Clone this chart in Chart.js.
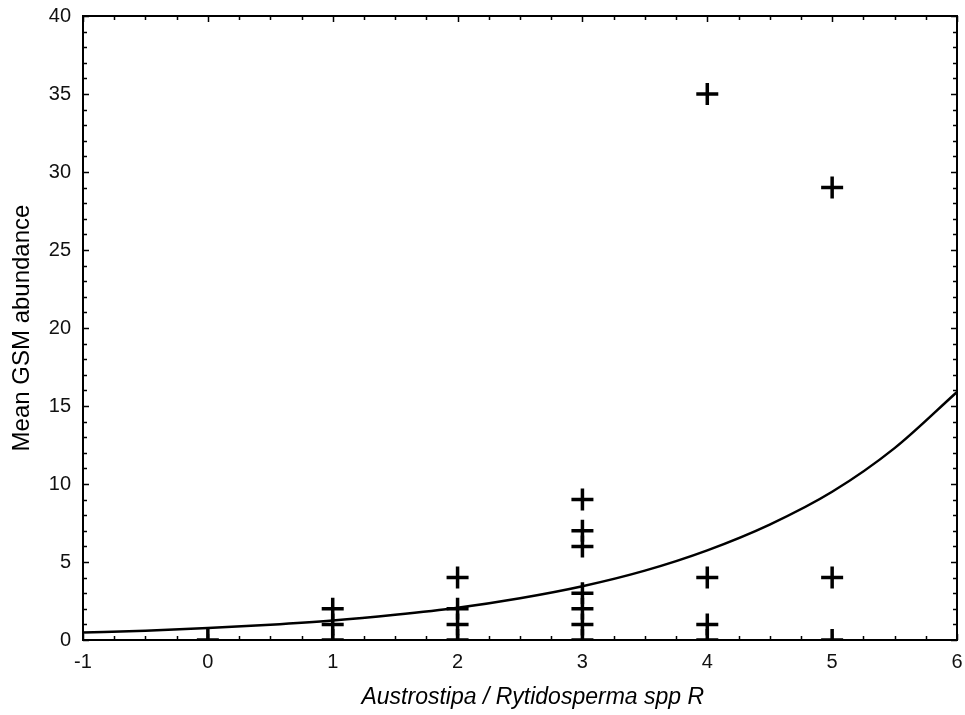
<!DOCTYPE html>
<html><head><meta charset="utf-8">
<script src="https://cdn.jsdelivr.net/npm/chart.js@4/dist/chart.umd.min.js"></script>
<style>html,body{margin:0;padding:0;background:#fff}#wrap{width:965px;height:715px}</style>
</head><body><div id="wrap"><canvas id="c" width="965" height="715"></canvas></div>
<script>
// Observed points (x = Austrostipa / Rytidosperma spp R, y = Mean GSM abundance)
const obsX = [0, 1, 1, 1, 2, 2, 2, 2, 3, 3, 3, 3, 3, 3, 3, 4, 4, 4, 4, 5, 5, 5];
const obsY = [0, 0, 1, 2, 0, 1, 2, 4, 0, 1, 2, 3, 6, 7, 9, 0, 1, 4, 35, 0, 4, 29];
// Fitted curve
const fitX = [-1, -0.5, 0, 0.5, 1, 1.5, 2, 2.5, 3, 3.5, 4, 4.5, 5, 5.5, 6];
const fitY = [0.48, 0.6, 0.77, 0.98, 1.25, 1.62, 2.07, 2.68, 3.45, 4.45, 5.75, 7.4, 9.5, 12.3, 15.9];
const xTicks = [-1, 0, 1, 2, 3, 4, 5, 6];
const yTicks = [0, 5, 10, 15, 20, 25, 30, 35, 40];

const framePlugin = {
  id: 'frame',
  afterDatasetsDraw(chart) {
    const {ctx, chartArea: a, scales: {x, y}} = chart;
    ctx.save();
    ctx.strokeStyle = '#000';
    ctx.lineWidth = 2;
    ctx.strokeRect(a.left, a.top, a.right - a.left, a.bottom - a.top);
    ctx.lineWidth = 1.5;
    ctx.beginPath();
    for (let v = -1; v <= 6.0001; v += 0.25) {
      const px = Math.round(x.getPixelForValue(v)) + 0.5;
      const major = Math.abs(v - Math.round(v)) < 1e-6;
      const len = major ? 6 : 4;
      ctx.moveTo(px, a.bottom); ctx.lineTo(px, a.bottom - len);
      ctx.moveTo(px, a.top); ctx.lineTo(px, a.top + len);
    }
    for (let v = 0; v <= 40.0001; v += 1) {
      const py = Math.round(y.getPixelForValue(v)) + 0.5;
      const major = v % 5 === 0;
      const len = major ? 6 : 4;
      ctx.moveTo(a.left, py); ctx.lineTo(a.left + len, py);
      ctx.moveTo(a.right, py); ctx.lineTo(a.right - len, py);
    }
    ctx.stroke();
    ctx.restore();
  }
};

new Chart(document.getElementById('c'), {
  type: 'scatter',
  data: {
    datasets: [
      {
        label: 'fit',
        data: fitX.map((v, i) => ({x: v, y: fitY[i]})),
        showLine: true,
        borderColor: '#000',
        borderWidth: 2.5,
        pointRadius: 0,
        cubicInterpolationMode: 'monotone',
        clip: 0
      },
      {
        label: 'obs',
        data: obsX.map((v, i) => ({x: v, y: obsY[i]})),
        pointStyle: 'cross',
        pointRadius: 11,
        pointBorderWidth: 3.5,
        borderColor: '#000',
        backgroundColor: '#000',
        clip: 0
      }
    ]
  },
  options: {
    responsive: false,
    animation: false,
    events: [],
    layout: {autoPadding: false, padding: {left: 0, right: 8, top: 16, bottom: 0}},
    plugins: {legend: {display: false}, tooltip: {enabled: false}},
    scales: {
      x: {
        type: 'linear', min: -1, max: 6,
        afterBuildTicks: s => { s.ticks = xTicks.map(v => ({value: v})); },
        afterFit: s => { s.height = 75; s.paddingLeft = 0; s.paddingRight = 0; },
        grid: {display: false, drawTicks: false},
        border: {display: false},
        ticks: {color: '#111', padding: 10, font: {family: 'Liberation Sans', size: 20}},
        title: {display: true, text: '    Austrostipa / Rytidosperma spp R', color: '#000',
                font: {family: 'Liberation Sans', size: 23, style: 'italic'}, padding: {top: 9}}
      },
      y: {
        type: 'linear', min: 0, max: 40,
        afterBuildTicks: s => { s.ticks = yTicks.map(v => ({value: v})); },
        afterFit: s => { s.width = 83; s.paddingTop = 0; s.paddingBottom = 0; },
        grid: {display: false, drawTicks: false},
        border: {display: false},
        ticks: {color: '#111', padding: 12, font: {family: 'Liberation Sans', size: 20}},
        title: {display: true, text: 'Mean GSM abundance', color: '#000',
                font: {family: 'Liberation Sans', size: 24}, padding: {top: 8, bottom: 0}}
      }
    }
  },
  plugins: [framePlugin]
});
</script></body></html>
